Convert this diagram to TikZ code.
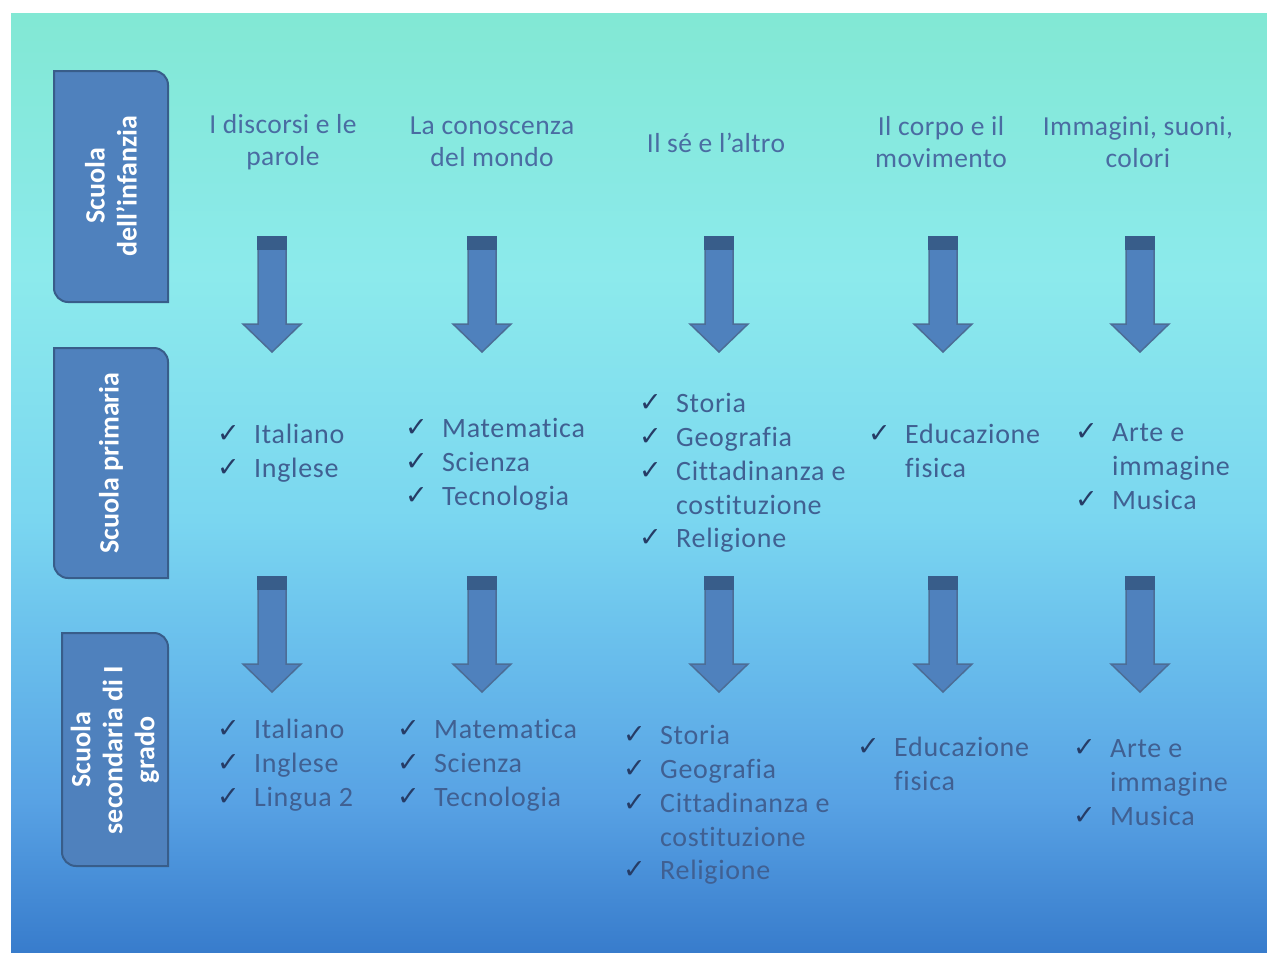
\documentclass[tikz,border=0pt]{standalone}
\usepackage{fontspec}
\setmainfont[Ligatures=NoCommon]{Carlito}
\newfontfamily\itemfont[LetterSpace=2.5,Ligatures=NoCommon]{Carlito}
\newfontfamily\headfont[LetterSpace=1.5,Ligatures=NoCommon]{Carlito}
\newfontfamily\checkfont{DejaVu Sans}
\usetikzlibrary{positioning}

\definecolor{bg0}{RGB}{130,232,212}
\definecolor{bg1}{RGB}{140,234,236}
\definecolor{bg2}{RGB}{122,214,240}
\definecolor{bg3}{RGB}{105,190,236}
\definecolor{bg4}{RGB}{88,162,228}
\definecolor{bg5}{RGB}{56,124,204}
\definecolor{boxfill}{RGB}{79,129,189}
\definecolor{boxline}{RGB}{56,93,138}
\definecolor{headtxt}{RGB}{74,108,162}
\definecolor{itemtxt}{RGB}{64,96,146}
\definecolor{itemdark}{RGB}{44,74,124}
\definecolor{checktxt}{RGB}{38,60,102}

\pgfdeclareverticalshading{schoolbg}{100bp}{
    color(0bp)=(bg5); color(25bp)=(bg5); color(33bp)=(bg4); color(41bp)=(bg3);
    color(48bp)=(bg2); color(61bp)=(bg1); color(75bp)=(bg0); color(100bp)=(bg0)}

\newcommand{\ck}{\makebox[37pt][l]{\color{checktxt}\checkfont\fontsize{27}{27}\selectfont\raisebox{1pt}{✓}}}
\newcommand{\cont}{\hspace*{37pt}}
\newcommand{\lista}[1]{\begin{tabular}{@{}l@{}}#1\end{tabular}}

\begin{document}
\begin{tikzpicture}[
    x=1pt, y=-1pt,
    tab/.style={
        fill=boxfill,
        draw=boxline,
        line width=2pt,
        },
    tabtext/.style={
        rotate=90,
        align=center,
        text=white,
        inner sep=0pt,
        font=\fontsize{28}{32}\selectfont\bfseries,
        },
    head/.style={
        align=center,
        text=headtxt,
        inner sep=0pt,
        font=\fontsize{27.5}{32}\selectfont\headfont,
        },
    items/.style={
        anchor=north west,
        text=itemtxt,
        inner sep=0pt,
        font=\fontsize{28}{33.75}\selectfont\itemfont,
        },
    arrowbody/.style={
        fill=boxfill,
        draw=boxline!90,
        line width=1.5pt,
        line join=miter,
        },
    arrowcap/.style={
        fill=boxline,
        draw=boxline,
        line width=1.5pt,
        },
    ]

    \useasboundingbox (0,0) rectangle (1267,954);
    \fill[white] (0,0) rectangle (1267,954);
    \shade[shading=schoolbg] (11,13) rectangle (1267,952);

    % school levels
    \draw[tab] (54,71) -- (154,71) arc[start angle=270, end angle=360, radius=14] -- (168,302)
        -- (68,302) arc[start angle=90, end angle=180, radius=14] -- cycle;
    \draw[tab] (54,348) -- (154,348) arc[start angle=270, end angle=360, radius=14] -- (168,578)
        -- (68,578) arc[start angle=90, end angle=180, radius=14] -- cycle;
    \draw[tab] (62,633) -- (154,633) arc[start angle=270, end angle=360, radius=14] -- (168,866)
        -- (76,866) arc[start angle=90, end angle=180, radius=14] -- cycle;

    \node[tabtext] (infanzia) at (111,186) {Scuola\\dell’infanzia};
    \node[tabtext] (primaria) at (111,463) {Scuola primaria};
    \node[tabtext] (secondaria) at (115,750) {Scuola\\secondaria di I\\grado};

    % campi di esperienza
    \node[head] (h1) at (283,142) {I discorsi e le\\parole};
    \node[head] (h2) at (492,142) {La conoscenza\\del mondo};
    \node[head] (h3) at (716,143) {Il sé e l’altro};
    \node[head] (h4) at (941,142) {Il corpo e il\\movimento};
    \node[head] (h5) at (1138,142) {Immagini, suoni,\\colori};

    \foreach \x in {272,482,719,943,1140}
        \foreach \y in {237,577} {
            \filldraw[arrowbody] (\x-14,\y) -- (\x+14,\y) -- (\x+14,\y+87) -- (\x+29,\y+87)
                -- (\x,\y+115) -- (\x-29,\y+87) -- (\x-14,\y+87) -- cycle;
            \filldraw[arrowcap] (\x-14,\y) rectangle (\x+14,\y+12);
        }

    % primaria
    \node[items] (p1) at (217,420) {\lista{\ck Italiano\\ \ck Inglese}};
    \node[items] (p2) at (405,414) {\lista{\ck Matematica\\ \ck Scienza\\ \ck Tecnologia}};
    \node[items] (p3) at (639,389) {\lista{\ck Storia\\ \ck Geografia\\ \ck Cittadinanza e\\ \cont costituzione\\ \ck Religione}};
    \node[items] (p4) at (868,420) {\lista{\ck Educazione\\ \cont fisica}};
    \node[items] (p5) at (1075,418) {\lista{\ck Arte e\\ \cont immagine\\ \ck Musica}};

    % secondaria
    \begin{scope}[every node/.append style={text=itemdark}]
    \node[items] (s1) at (217,715) {\lista{\ck Italiano\\ \ck Inglese\\ \ck Lingua 2}};
    \node[items] (s2) at (397,715) {\lista{\ck Matematica\\ \ck Scienza\\ \ck Tecnologia}};
    \node[items] (s3) at (623,721) {\lista{\ck Storia\\ \ck Geografia\\ \ck Cittadinanza e\\ \cont costituzione\\ \ck Religione}};
    \node[items] (s4) at (857,733) {\lista{\ck Educazione\\ \cont fisica}};
    \node[items] (s5) at (1073,734) {\lista{\ck Arte e\\ \cont immagine\\ \ck Musica}};
    \end{scope}

\end{tikzpicture}
\end{document}
